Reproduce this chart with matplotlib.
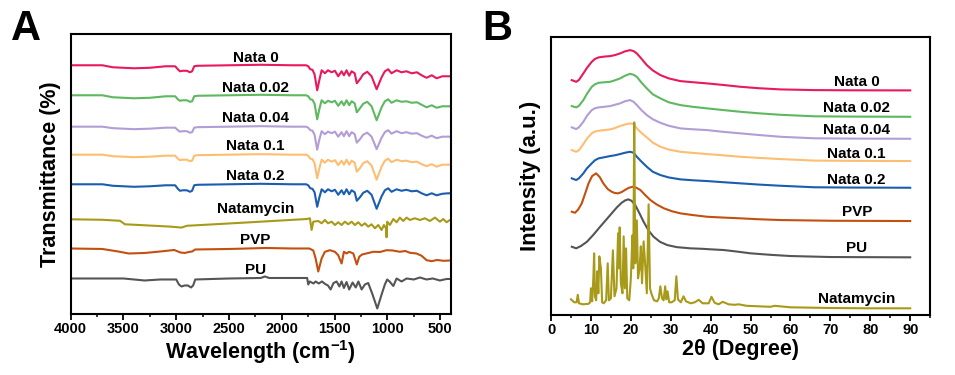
import numpy as np
import matplotlib
matplotlib.use('Agg')
import matplotlib.pyplot as plt
from matplotlib.ticker import MultipleLocator

plt.rcParams['font.family'] = ['Liberation Sans', 'DejaVu Sans']
plt.rcParams['font.weight'] = 'bold'
plt.rcParams['mathtext.fontset'] = 'custom'
plt.rcParams['mathtext.rm'] = 'Liberation Sans:bold'
plt.rcParams['mathtext.bf'] = 'Liberation Sans:bold'

# ---------------- FTIR (panel A) ----------------
# blend films share one wavenumber grid; values = change from each trace's baseline
wn_blend = [4000, 3700, 3600, 3400, 3250, 3100, 3010, 2985, 2965, 2940, 2900, 2870, 2850, 2830, 2800,
            2500, 2200, 1900, 1770, 1750, 1730, 1710, 1690, 1665, 1645, 1623, 1592, 1563, 1528, 1497,
            1466, 1434, 1412, 1387, 1362, 1339, 1310, 1290, 1260, 1229, 1191, 1150, 1102, 1055, 1024,
            993, 961, 913, 866, 820, 770, 720, 676, 629, 580, 534, 480, 424, 400]
t_nata0 = [0, 0, -2, -3, -2.5, -1, -1, -4, -6, -5.5, -5.5, -7, -6, -1, -0.5,
           0, 0.5, 0, 0, -1, -4, -4.5, -9, -25, -15, -5, -8, -5, -7, -5.5,
           -11, -6, -10, -5, -10.5, -6, -8, -18, -14, -9, -6.5, -11, -24, -12, -6,
           -4, -8, -5, -7, -6, -8, -7, -10, -12.5, -10, -13, -11, -11, -11]
t_nata002 = [0, 0, -2, -3, -2.5, -1, -1, -4, -5.5, -5, -5, -6.5, -6, -1, -0.5,
             0, 0.5, 0, 0, -1, -4, -4.5, -8.5, -24, -14, -5, -8, -5.5, -7, -5.5,
             -10.5, -6, -10, -5, -10, -6, -8, -17, -13, -8.5, -6.5, -11, -25, -12, -6,
             -4, -7.5, -5, -6.5, -6, -7.5, -7, -9.5, -12, -10, -12.5, -11, -11, -11]
t_nata004 = [0, 0, -1.5, -2.5, -2, -1, -1, -3.5, -5, -4.5, -4.5, -6, -5.5, -1, -0.5,
             0, 0.5, 0, 0, -1, -3.5, -4, -8, -23, -13, -4.5, -7.5, -5, -6.5, -5,
             -10, -5.5, -9.5, -4.5, -9.5, -5.5, -7.5, -16, -12.5, -8, -6, -10, -22.5, -11, -5.5,
             -3.5, -7, -4.5, -6.5, -5.5, -7, -6.5, -9, -11, -9, -11.5, -10, -10, -10]
t_nata01 = [0, 0, -1.5, -2.5, -2, -1, -1, -4, -5.5, -5, -5, -6.5, -6, -1, -0.5,
            0, 0.5, 0, 0, -1, -4, -4.5, -8.5, -23.5, -14, -5, -8, -5, -7, -5.5,
            -10.5, -6, -10, -5, -10, -6, -8, -17, -13.5, -8.5, -6.5, -11, -25, -12, -6,
            -4, -7.5, -5, -6.5, -6, -7.5, -7, -9.5, -11.5, -9.5, -12, -10, -10, -10]
t_nata02 = [0, 0, -1.5, -2.5, -2, -1, -1, -4.5, -6.5, -6, -6, -7.5, -6.5, -1, -0.5,
            0, 0.5, 0, 0, -1, -4, -4.5, -8, -22.5, -13.5, -5, -8, -5, -7, -5.5,
            -10.5, -6, -10, -5, -10, -6, -8, -16.5, -13, -8.5, -6.5, -10.5, -24.5, -12, -6,
            -4, -7.5, -5, -6.5, -5.5, -7, -6.5, -9, -11, -9, -11, -9.5, -9, -9]

wn_natamycin = [4000, 3700, 3533, 3486, 3300, 3060, 2949, 2900, 2586, 2300, 1923, 1760, 1734, 1718, 1702,
                1655, 1623, 1592, 1563, 1528, 1497, 1466, 1434, 1403, 1371, 1339, 1308, 1276, 1244, 1213,
                1182, 1150, 1118, 1087, 1055, 1033, 1014, 1008, 1002, 976, 944, 913, 882, 850, 818,
                787, 740, 692, 645, 598, 550, 503, 471, 440, 408]
t_natamycin = [0, -0.5, -1.5, -5, -6, -7.3, -8.3, -6.5, -4.7, -3, -0.7, 0.3, 1, -10.7, -2.4,
               -1.7, -4, -0.7, -4, -2.4, -5.7, -3, -5.7, -2.4, -5, -2.4, -5.7, -3, -6.4, -4,
               -7.4, -5, -9, -5.7, -10.7, -5.7, -9, -18, -2.4, -5.7, 0.3, -3, 1.7, -1.7, 1.7,
               -0.7, 1, -0.7, 1, -1.7, 1.7, -2.4, 0.3, -3, -0.7]

wn_pvp = [4000, 3700, 3550, 3450, 3300, 3150, 3020, 2960, 2920, 2880, 2850, 2820, 2500, 2150, 1900,
          1740, 1702, 1680, 1655, 1623, 1592, 1544, 1497, 1466, 1434, 1412, 1387, 1362, 1323, 1290,
          1267, 1240, 1200, 1134, 1070, 1008, 950, 882, 830, 787, 724, 676, 629, 581, 530, 471, 400]
t_pvp = [0, -0.5, -3, -5, -4.5, -3, -1.5, -4, -4.5, -3.5, -3, -1, -0.5, 0.5, 0,
         0, -2, -10, -23, -10, -3.3, -1.7, -3.3, -6.7, -15, -3.3, -5, -3.3, -5, -16,
         -8.3, -6, -5, -3.3, -3.5, -1.7, -2, -3.3, -2.5, -4.3, -5, -7.3, -11.7, -12.7, -11.5, -12.3, -12]

wn_pu = [4000, 3500, 3300, 3150, 3000, 2975, 2950, 2920, 2890, 2860, 2840, 2820, 2500, 2200, 2160,
         2120, 1900, 1760, 1750, 1735, 1700, 1680, 1650, 1620, 1590, 1563, 1538, 1510, 1481, 1455,
         1434, 1412, 1387, 1362, 1330, 1300, 1275, 1244, 1213, 1182, 1141, 1096, 1055, 1024, 1002,
         980, 944, 913, 866, 818, 750, 692, 630, 570, 503, 440, 400]
t_pu = [0, 0, -2, -1, -1, -6, -8, -7, -7, -9, -7, -1, 0, 0.5, 2,
        0.5, 0.5, 0.5, -6, -3, -5, -3, -5, -3, -5.5, -7, -11, -4.5, -3, -8,
        -3, -9.5, -3.5, -11, -4, -9, -3, -11, -6, -4.5, -16, -30, -16, -6, -1,
        -3, -7.5, 0, -3, 0, -1, 1, -1, 0, -2, -0.5, -0.5]

# ---------------- XRD (panel B) ----------------
tt_blend = [5.2, 6.3, 7.0, 8.1, 9.0, 10.2, 11.0, 11.9, 13.3, 14.8, 16.0, 17.3, 18.5, 19.8, 20.7,
            21.5, 22.7, 24.0, 25.5, 27.4, 29.5, 32.4, 35.5, 39.1, 43.0, 47.5, 52.0, 57.5, 65.9, 75.0, 90.0]
i_nata0 = [10.3, 8.6, 10.5, 17, 22.5, 28.6, 31.5, 33, 33.8, 34.3, 35.3, 37, 39, 40.3, 39.3,
           37, 31.5, 25.3, 20, 15.3, 12, 9.3, 8.2, 7, 5.5, 3.6, 2.2, 1, 0.3, 0.1, 0]
i_nata002 = [10.7, 9.4, 11, 16.7, 23, 30, 32.5, 34, 34.5, 35, 36.5, 38.4, 41, 43, 42,
             40, 34, 28.4, 22.5, 18.4, 14.5, 11.7, 10, 8.4, 6.8, 5, 3.5, 2, 0.5, 0.2, 0]
i_nata004 = [11.4, 9.7, 11.5, 17, 23, 28.7, 30.5, 31.4, 32, 32.7, 34, 35.4, 37.5, 38.7, 37,
             33.7, 28.5, 23.7, 19.5, 16, 13, 10.4, 9.5, 8.7, 7, 5.4, 3.8, 2, 0.5, 0.2, 0]
i_nata01 = [11, 9.3, 11, 17, 22.5, 27.7, 29.5, 30.3, 31, 31.7, 33, 35, 36.5, 37.7, 37,
            32.7, 28, 23.7, 18.5, 14.3, 11.5, 9.3, 8.2, 7, 5.8, 4.3, 3.2, 2, 0.5, 0.2, 0]
i_nata02 = [9.4, 7.7, 9.5, 14.4, 19.5, 24.4, 27.5, 29.4, 30.5, 31.7, 32.5, 33.7, 35, 36, 35,
            31, 26, 21, 16, 12.7, 10.3, 8.4, 7.5, 6.7, 5.6, 4.4, 3.2, 2, 0.5, 0.2, 0]

tt_pvp = [5.2, 6.0, 6.8, 7.7, 8.5, 9.4, 10.3, 11.3, 12.2, 13.1, 14.2, 15.2, 16.0, 16.8, 17.7,
          18.5, 19.5, 20.5, 21.4, 22.4, 23.6, 24.9, 26.5, 28.3, 30.3, 32.4, 35.5, 39.1, 43.0, 47.5,
          52.0, 57.5, 70.0, 90.0]
i_pvp = [9.3, 8.3, 11.5, 17.7, 27, 37.7, 45, 47.7, 44, 37.7, 32, 29.3, 28, 27.7, 29,
         31, 33.3, 34.3, 33.3, 31, 26, 21, 16.5, 12.7, 9.8, 7.7, 6, 4.3, 3.5, 2.7,
         1.8, 1, 0.3, 0]

tt_pu = [5.2, 6.3, 7.5, 9.0, 10.6, 12.3, 13.8, 15.2, 16.5, 17.7, 18.6, 19.4, 20.2, 21.1, 22.1,
         23.2, 24.4, 25.7, 27.3, 29.1, 31.5, 34.9, 38.0, 40.0, 43.3, 46.5, 50.0, 55.0, 60.0, 70.0, 90.0]
i_pu = [10.6, 9, 11.3, 15.6, 22.5, 30.6, 37.5, 44, 50, 54.6, 57, 58, 56.5, 52.3, 44.5,
        35.6, 27, 20.6, 15.5, 12.3, 10.2, 9, 8.5, 8, 7.3, 5.8, 4, 2.5, 1.3, 0.3, 0]

tt_nat = [5.0, 5.8, 6.4, 6.7, 7.0, 8.0, 9.4, 9.8, 10.0, 10.3, 10.6, 10.8, 11.0, 11.3, 11.6,
          11.85, 12.1, 12.5, 12.8, 13.2, 13.8, 14.2, 14.5, 15.0, 15.5, 15.9, 16.4, 16.8, 17.0, 17.2,
          17.5, 17.9, 18.2, 18.5, 18.8, 19.1, 19.6, 20.0, 20.4, 20.6, 20.85, 21.1, 21.5, 21.8, 22.2,
          22.5, 22.8, 23.2, 23.6, 24.0, 24.45, 24.8, 25.2, 25.8, 26.6, 27.0, 27.4, 27.8, 28.2, 28.6,
          28.9, 29.2, 29.6, 30.2, 31.0, 31.4, 31.8, 32.5, 33.2, 33.8, 35.0, 36.0, 37.0, 38.0, 39.5,
          40.2, 41.0, 42.0, 43.0, 44.5, 46.0, 47.0, 49.0, 52.0, 55.0, 56.0, 60.0, 70.0, 80.0, 90.0]
i_nat = [9, 6, 6, 13.5, 5, 4, 4.5, 6, 20, 7, 30, 55, 12, 8, 37,
         15, 52, 40, 6, 5, 8, 45, 8, 10, 58, 12, 20, 75, 40, 81,
         25, 15, 72, 20, 60, 10, 8, 30, 73, 40, 186, 45, 88, 30, 40,
         62, 25, 67, 43, 15, 104, 20, 14, 8, 7, 10, 22, 10, 8, 22,
         9, 17, 6, 6, 8, 32, 9, 6, 12, 7, 5, 6, 8.5, 5, 5,
         11.5, 5.5, 4, 6.5, 4, 3.5, 4, 2.5, 2, 1.5, 2.5, 1, 0.3, 0, 0]

names = ['Nata 0', 'Nata 0.02', 'Nata 0.04', 'Nata 0.1', 'Nata 0.2', 'Natamycin', 'PVP', 'PU']
colors = {'Nata 0': '#E8195C', 'Nata 0.02': '#5DB860', 'Nata 0.04': '#B39DD6', 'Nata 0.1': '#FDBE72',
          'Nata 0.2': '#1B5DB0', 'Natamycin': '#A89A18', 'PVP': '#C2500F', 'PU': '#555555'}


def main():
    fig = plt.figure(figsize=(9.55, 3.75), dpi=100)
    axA = fig.add_axes([0.074, 0.1627, 0.398, 0.7467])
    axB = fig.add_axes([0.577, 0.160, 0.397, 0.741])

    # panel A: stacked FTIR traces
    ftir = {'Nata 0': (wn_blend, t_nata0), 'Nata 0.02': (wn_blend, t_nata002),
            'Nata 0.04': (wn_blend, t_nata004), 'Nata 0.1': (wn_blend, t_nata01),
            'Nata 0.2': (wn_blend, t_nata02), 'Natamycin': (wn_natamycin, t_natamycin),
            'PVP': (wn_pvp, t_pvp), 'PU': (wn_pu, t_pu)}
    offA = [248.7, 218.7, 187.3, 159.3, 129.7, 94.7, 65.5, 35.5]
    labA_y = [256, 226, 195.7, 168, 138, 104.7, 74, 44]
    for name, off, ly in zip(names, offA, labA_y):
        x, y = ftir[name]
        axA.plot(x, np.array(y) + off, color=colors[name], lw=1.5)
        axA.text(2250, ly, name, ha='center', va='center', fontsize=11, fontweight='bold')
    axA.set_xlim(4000, 400)
    axA.set_ylim(0, 280)
    axA.set_yticks([])
    axA.xaxis.set_major_locator(MultipleLocator(500))
    axA.xaxis.set_minor_locator(MultipleLocator(250))
    axA.set_xlabel(r'Wavelength (cm$^{-1}$)', fontsize=15.5, fontweight='bold', labelpad=1)
    axA.set_ylabel('Transmittance (%)', fontsize=15.5, fontweight='bold', labelpad=7)

    # panel B: stacked XRD patterns
    xrd = {'Nata 0': (tt_blend, i_nata0), 'Nata 0.02': (tt_blend, i_nata002),
           'Nata 0.04': (tt_blend, i_nata004), 'Nata 0.1': (tt_blend, i_nata01),
           'Nata 0.2': (tt_blend, i_nata02), 'PVP': (tt_pvp, i_pvp), 'PU': (tt_pu, i_pu),
           'Natamycin': (tt_nat, i_nat)}
    offB = {'Nata 0': 224.7, 'Nata 0.02': 198.3, 'Nata 0.04': 176.3, 'Nata 0.1': 154,
            'Nata 0.2': 127.3, 'PVP': 94, 'PU': 57.7, 'Natamycin': 6.7}
    labB_y = {'Nata 0': 233.3, 'Nata 0.02': 207.3, 'Nata 0.04': 185, 'Nata 0.1': 160.7,
              'Nata 0.2': 135, 'PVP': 103, 'PU': 66.7, 'Natamycin': 15.7}
    order = ['Natamycin', 'PU', 'PVP', 'Nata 0.2', 'Nata 0.1', 'Nata 0.04', 'Nata 0.02', 'Nata 0']
    for name in order:
        x, y = xrd[name]
        z = 3 if name == 'Natamycin' else 2
        axB.plot(x, np.array(y) + offB[name], color=colors[name], lw=1.5, zorder=z)
        axB.text(76.6, labB_y[name], name, ha='center', va='center', fontsize=11, fontweight='bold')
    axB.set_xlim(0, 95)
    axB.set_ylim(0, 278)
    axB.set_yticks([])
    axB.xaxis.set_major_locator(MultipleLocator(10))
    axB.xaxis.set_minor_locator(MultipleLocator(5))
    axB.set_xlabel('2θ (Degree)', fontsize=15.5, fontweight='bold', labelpad=1)
    axB.set_ylabel('Intensity (a.u.)', fontsize=16, fontweight='bold', labelpad=7)

    for ax in (axA, axB):
        for s in ax.spines.values():
            s.set_linewidth(1.5)
        ax.tick_params(axis='x', which='major', length=4, width=1.3, labelsize=10.5, pad=2)
        ax.tick_params(axis='x', which='minor', length=2.5, width=1.1)
        for lbl in ax.get_xticklabels():
            lbl.set_fontweight('bold')

    fig.text(0.012, 0.975, 'A', fontsize=30, fontweight='bold', va='top')
    fig.text(0.505, 0.975, 'B', fontsize=30, fontweight='bold', va='top')

    plt.savefig('out.png', dpi=100)
    plt.close()


if __name__ == '__main__':
    main()
